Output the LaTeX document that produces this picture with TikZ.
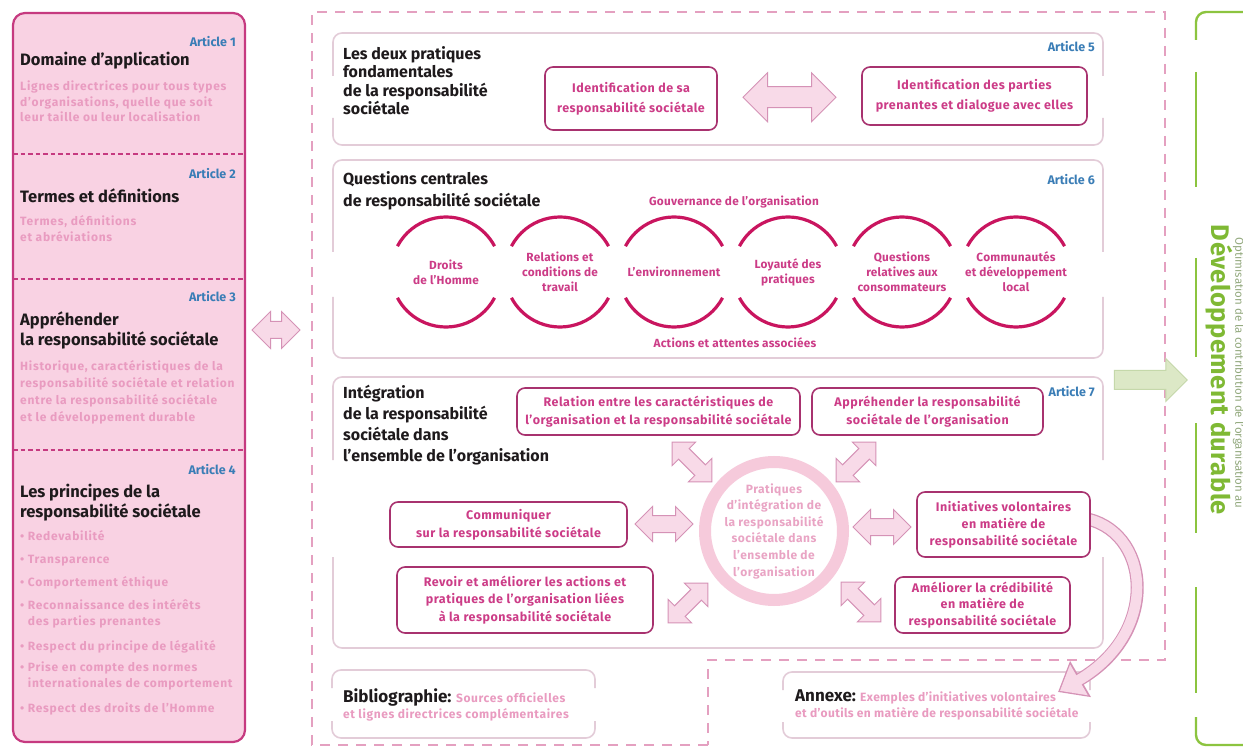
\documentclass[tikz,border=0pt]{standalone}
\usepackage{fontspec}
\setmainfont{Fira Sans}
\usetikzlibrary{shapes.arrows,arrows.meta,calc}
\definecolor{cFill}{HTML}{F9D2E3}
\definecolor{cBorder}{HTML}{C63A80}
\definecolor{cPale}{HTML}{E99BC0}
\definecolor{cInk}{HTML}{1E1A1C}
\definecolor{cBlue}{HTML}{3A7DB6}
\definecolor{cDash}{HTML}{E4A0C0}
\definecolor{cSec}{HTML}{E3CCD8}
\definecolor{cBox}{HTML}{A8326F}
\definecolor{cBoxTxt}{HTML}{CC3C87}
\definecolor{cArc}{HTML}{C9155F}
\definecolor{cArrLine}{HTML}{D592B6}
\definecolor{cArrFill}{HTML}{F8DAE8}
\definecolor{cRing}{HTML}{F6CADB}
\definecolor{cRingTxt}{HTML}{E9A4C4}
\definecolor{cGreen}{HTML}{8CC43F}
\definecolor{cGreenTxt}{HTML}{7FB934}
\definecolor{cGreenSmall}{HTML}{93A97E}
\definecolor{cGArrFill}{HTML}{DCE8C6}
\definecolor{cGArrLine}{HTML}{C5D8AA}
\newcommand\secpanel[6]{%
  \draw[secline] (#1,#5) -- (#1,#2) -- (#3,#2) -- (#3,#5);
  \draw[secline] (#1,#6) -- (#1,#4) -- (#3,#4) -- (#3,#6);}
\newcommand\lsp[1]{\addfontfeatures{LetterSpace=#1}}
\begin{document}
\begin{tikzpicture}[x=1pt,y=-1pt,
  lefttxt/.style={anchor=west,inner sep=0pt,align=left,text=cPale,font=\bfseries\fontsize{12}{15.5}\selectfont\lsp{6}},
  ltitle/.style={anchor=west,inner sep=0pt,align=left,text=cInk,font=\bfseries\fontsize{16.5}{20}\selectfont},
  stitle/.style={anchor=west,inner sep=0pt,align=left,text=cInk,font=\bfseries\fontsize{16}{19.5}\selectfont},
  art/.style={anchor=east,inner sep=0pt,text=cBlue,font=\bfseries\fontsize{12.5}{14}\selectfont},
  ibox/.style={draw=cBox,line width=1.6pt,rounded corners=8pt,fill=white,align=center,text=cBoxTxt,font=\bfseries\fontsize{12.5}{18}\selectfont\lsp{4},inner sep=0pt},
  ctxt/.style={align=center,text=cBoxTxt,font=\bfseries\fontsize{11.8}{15}\selectfont\lsp{2},inner sep=0pt},
  arcst/.style={draw=cArc,line width=3.2pt},
  secline/.style={draw=cSec,line width=1.6pt,rounded corners=9pt},
  dashbox/.style={draw=cDash,line width=2.2pt,dash pattern=on 10pt off 8pt},
  lsep/.style={draw=cBorder,line width=1.5pt,dash pattern=on 4.5pt off 3pt},
  dblarr/.style n args={3}{double arrow,draw=cArrLine,fill=cArrFill,line width=1pt,inner xsep=0pt,inner ysep=#2,text height=0pt,text depth=0pt,minimum height=#1,double arrow head extend=#3},
  paletxt/.style={anchor=west,inner sep=0pt,align=left,text=cPale,font=\bfseries\fontsize{12}{16}\selectfont\lsp{5}},
]
\useasboundingbox (0,0) rectangle (1243,751);
\fill[white] (0,0) rectangle (1243,751);

% ---------- left panel ----------
\draw[fill=cFill,draw=cBorder,line width=2.2pt,rounded corners=12pt] (13,13) rectangle (245,742);
\draw[lsep] (13,154) -- (245,154);
\draw[lsep] (13,279) -- (245,279);
\draw[lsep] (13,450) -- (245,450);

\node[art] (a1) at (236,42) {Article 1};
\node[ltitle] (t1) at (20,61) {Domaine d'application};
\node[lefttxt] (d1) at (20,101.5) {Lignes directrices pour tous types\\d'organisations, quelle que soit\\leur taille ou leur localisation};

\node[art] (a2) at (236,174) {Article 2};
\node[ltitle] (t2) at (20,196) {Termes et définitions};
\node[lefttxt,font=\bfseries\fontsize{12}{16}\selectfont\lsp{6}] (d2) at (20,229) {Termes, définitions\\et abréviations};

\node[art] (a3) at (236,297) {Article 3};
\node[ltitle] (t3) at (20,330) {Appréhender\\la responsabilité sociétale};
\node[lefttxt,font=\bfseries\fontsize{12}{17}\selectfont\lsp{6}] (d3) at (20,392) {Historique, caractéristiques de la\\responsabilité sociétale et relation\\entre la responsabilité sociétale\\et le développement durable};

\node[art] (a4) at (236,470) {Article 4};
\node[ltitle] (t4) at (20,502.5) {Les principes de la\\responsabilité sociétale};
\node[lefttxt,font=\bfseries\fontsize{12}{16}\selectfont\lsp{6}] (d4) at (20,623) {• Redevabilité\\[7pt]• Transparence\\[7pt]• Comportement éthique\\[7pt]• Reconnaissance des intérêts\\\phantom{• }des parties prenantes\\[9pt]• Respect du principe de légalité\\[5pt]• Prise en compte des normes\\\phantom{• }internationales de comportement\\[9pt]• Respect des droits de l'Homme};

% ---------- middle dashed container ----------
\draw[dashbox] (708,745) -- (312,745) -- (312,12) -- (1165,12) -- (1165,660) -- (708,660) -- cycle;

% section panels
\secpanel{333}{33}{1103}{145}{76}{118}
\secpanel{333}{160}{1103}{358}{252}{297}
\secpanel{333}{377}{1103}{648}{460}{557}
\secpanel{332}{670}{595}{738}{688}{721}
\secpanel{783}{672}{1090}{738}{690}{722}

% section 1
\node[stitle,font=\bfseries\fontsize{16}{18.5}\selectfont] (s1) at (343,80.5) {Les deux pratiques\\fondamentales\\de la responsabilité\\sociétale};
\node[art] (a5) at (1095,47) {Article 5};
\node[ibox,minimum width=172pt,minimum height=63pt,font=\bfseries\fontsize{12.5}{20}\selectfont\lsp{4}] (id1) at (631,98.5) {Identification de sa\\responsabilité sociétale};
\node[ibox,minimum width=225pt,minimum height=58pt,font=\bfseries\fontsize{12.5}{20}\selectfont\lsp{4}] (id2) at (974.5,96) {Identification des parties\\prenantes et dialogue avec elles};
\node[dblarr={93pt}{10pt}{14pt}] (arr1) at ($(id1.east)!0.5!(id2.west)$) {};

% section 2
\node[stitle,font=\bfseries\fontsize{16}{22}\selectfont] (s2) at (343,191) {Questions centrales\\de responsabilité sociétale};
\node[art] (a6) at (1095,180) {Article 6};
\node[ctxt] (gov) at (734,202) {Gouvernance de l'organisation};
\node[ctxt] (act) at (735,343) {Actions et attentes associées};
\node[ctxt] (c1) at (446,272) {Droits\\de l'Homme};
\node[ctxt] (c2) at (560,272) {Relations et\\conditions de\\travail};
\node[ctxt] (c3) at (674,272) {L'environnement};
\node[ctxt] (c4) at (788,272) {Loyauté des\\pratiques};
\node[ctxt] (c5) at (902,272) {Questions\\relatives aux\\consommateurs};
\node[ctxt] (c6) at (1016,272) {Communautés\\et développement\\local};
\foreach \n in {1,...,6}{
  \draw[arcst] ([shift={(208:55)}]c\n.center) arc[start angle=208,end angle=332,radius=55];
  \draw[arcst] ([shift={(28:55)}]c\n.center) arc[start angle=28,end angle=152,radius=55];
}

% section 3
\node[stitle,font=\bfseries\fontsize{16}{21}\selectfont] (s3) at (343,425) {Intégration\\de la responsabilité\\sociétale dans\\l'ensemble de l'organisation};
\node[art] (a7) at (1095,392) {Article 7};
\node[circle,draw=cRing,line width=12pt,minimum size=138pt,inner sep=0pt,align=center,text=cRingTxt,font=\bfseries\fontsize{12}{16.6}\selectfont\lsp{4}] (core) at (774,531) {Pratiques\\d'intégration de\\la responsabilité\\sociétale dans\\l'ensemble de\\l'organisation};
\node[ibox,minimum width=283pt,minimum height=47pt] (rel) at (658.5,411.5) {Relation entre les caractéristiques de\\l'organisation et la responsabilité sociétale};
\node[ibox,minimum width=231pt,minimum height=47pt] (appr) at (927.5,411.5) {Appréhender la responsabilité\\sociétale de l'organisation};
\node[ibox,minimum width=237pt,minimum height=45pt] (comm) at (508.5,524.5) {Communiquer\\sur la responsabilité sociétale};
\node[ibox,minimum width=256pt,minimum height=66pt,font=\bfseries\fontsize{12.5}{17.5}\selectfont\lsp{4}] (rev) at (525,600) {Revoir et améliorer les actions et\\pratiques de l'organisation liées\\à la responsabilité sociétale};
\node[ibox,minimum width=175pt,minimum height=56pt,font=\bfseries\fontsize{12.5}{16.5}\selectfont\lsp{4}] (amel) at (982.5,605) {Améliorer la crédibilité\\en matière de\\responsabilité sociétale};

\node[dblarr={56pt}{7pt}{9pt},rotate=-45] (arrUL) at (692,462) {};
\node[dblarr={56pt}{7pt}{9pt},rotate=45] (arrUR) at (856,462) {};
\node[dblarr={56pt}{7pt}{9pt},rotate=45] (arrLL) at (688,603) {};
\node[dblarr={56pt}{7pt}{9pt},rotate=-45] (arrLR) at (861,602) {};
\node[dblarr={58pt}{8pt}{9pt}] (arrL) at (664,524) {};
\node[dblarr={58pt}{8pt}{9pt}] (arrR) at (882,527) {};

% bottom boxes
\node[paletxt] (bib) at (343,705) {{\color{cInk}\fontsize{17}{16}\selectfont\lsp{0}Bibliographie:} Sources officielles\\et lignes directrices complémentaires};
\node[paletxt,font=\bfseries\fontsize{12}{16}\selectfont\lsp{3}] (anx) at (795,705) {{\color{cInk}\fontsize{17}{16}\selectfont\lsp{0}Annexe:} Exemples d'initiatives volontaires\\et d'outils en matière de responsabilité sociétale};

% initiative box and curved arrow
\coordinate (annexTip) at (1058,692);
\coordinate (initStart) at (1082,518);
\draw[line width=13pt,draw=cArrLine,-{Triangle[length=26pt,width=40pt]}] (initStart) .. controls (1150,528) and (1162,632) .. (annexTip);
\draw[line width=10.5pt,draw=cArrFill,shorten >=2.2pt,-{Triangle[length=22pt,width=34pt]}] (initStart) .. controls (1150,528) and (1162,632) .. (annexTip);
\node[ibox,minimum width=173pt,minimum height=65pt,font=\bfseries\fontsize{12.5}{17}\selectfont\lsp{4}] (init) at (1003.5,524.5) {Initiatives volontaires\\en matière de\\responsabilité sociétale};

% left connecting arrow
\node[dblarr={48pt}{8pt}{10pt}] (arrLeft) at (276,330) {};

% ---------- right green panel ----------
\begin{scope}
\clip (0,0) rectangle (1243,751);
\draw[cGreen,line width=2.4pt,rounded corners=10pt] (1196,40) -- (1196,12) -- (1290,12);
\draw[cGreen,line width=2.4pt,rounded corners=10pt] (1196,717) -- (1196,745) -- (1290,745);
\draw[cGreen,line width=2.4pt] (1196,72) -- (1196,187);
\draw[cGreen,line width=2.4pt] (1196,258) -- (1196,357);
\draw[cGreen,line width=2.4pt] (1196,423) -- (1196,533);
\draw[cGreen,line width=2.4pt] (1196,587) -- (1196,693);
\node[rotate=-90,inner sep=0pt,text=cGreenTxt,font=\bfseries\fontsize{25.5}{28}\selectfont\lsp{2}] (dd) at (1219,370) {Développement durable};
\node[rotate=-90,inner sep=0pt,text=cGreenSmall,font=\fontsize{11.5}{13}\selectfont] (opt) at (1238.5,373) {Optimisation de la contribution de l'organisation au};
\end{scope}
\node[single arrow,draw=cGArrLine,fill=cGArrFill,line width=1pt,inner xsep=0pt,inner ysep=9pt,text height=0pt,text depth=0pt,minimum height=73pt,single arrow head extend=12pt] (garr) at (1146,380) {};
\end{tikzpicture}
\end{document}
